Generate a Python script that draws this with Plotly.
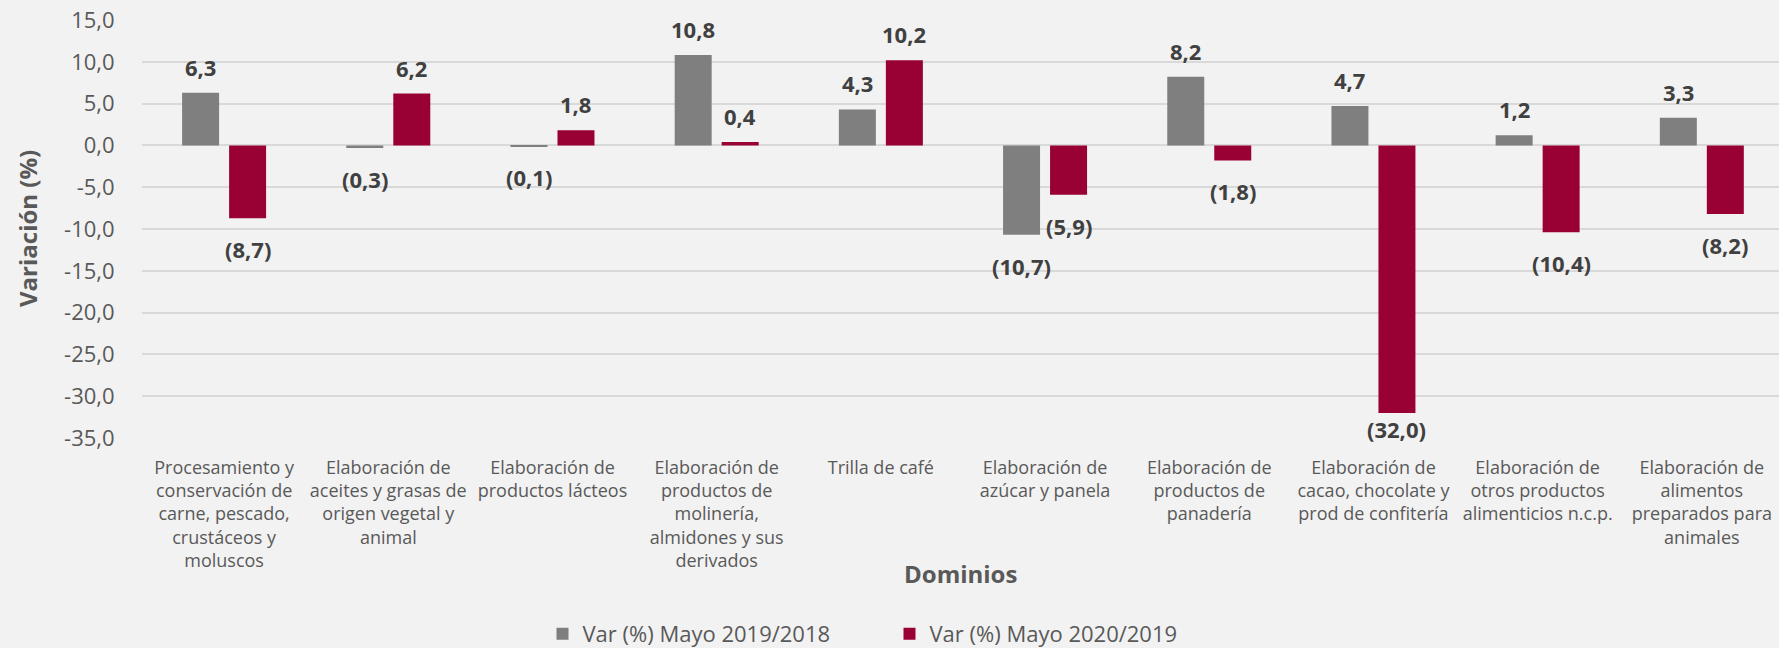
import plotly.graph_objects as go

categories = [
    "Procesamiento y conservación de carne, pescado, crustáceos y moluscos",
    "Elaboración de aceites y grasas de origen vegetal y animal",
    "Elaboración de productos lácteos",
    "Elaboración de productos de molinería, almidones y sus derivados",
    "Trilla de café",
    "Elaboración de azúcar y panela",
    "Elaboración de productos de panadería",
    "Elaboración de cacao, chocolate y prod de confitería",
    "Elaboración de otros productos alimenticios n.c.p.",
    "Elaboración de alimentos preparados para animales",
]
tick_labels = [
    "Procesamiento y<br>conservación de<br>carne, pescado,<br>crustáceos y<br>moluscos",
    "Elaboración de<br>aceites y grasas de<br>origen vegetal y<br>animal",
    "Elaboración de<br>productos lácteos",
    "Elaboración de<br>productos de<br>molinería,<br>almidones y sus<br>derivados",
    "Trilla de café",
    "Elaboración de<br>azúcar y panela",
    "Elaboración de<br>productos de<br>panadería",
    "Elaboración de<br>cacao, chocolate y<br>prod de confitería",
    "Elaboración de<br>otros productos<br>alimenticios n.c.p.",
    "Elaboración de<br>alimentos<br>preparados para<br>animales",
]
var_2019_2018 = [6.3, -0.3, -0.1, 10.8, 4.3, -10.7, 8.2, 4.7, 1.2, 3.3]
var_2020_2019 = [-8.7, 6.2, 1.8, 0.4, 10.2, -5.9, -1.8, -32.0, -10.4, -8.2]
series_names = ["Var (%) Mayo 2019/2018", "Var (%) Mayo 2020/2019"]
y_ticks = [15, 10, 5, 0, -5, -10, -15, -20, -25, -30, -35]

COLORS = ["#7f7f7f", "#990033"]
FONT = "Open Sans"
TXT = "#595959"
LBL = "#404040"

W, H = 1779, 648
ML, MT, MB, MR = 142, 20, 210, 0
Y_MIN, Y_MAX = -35, 15
plot_h = H - MT - MB
ppu = plot_h / (Y_MAX - Y_MIN)


def fmt(v):
    s = f"{abs(v):.1f}".replace(".", ",")
    return f"({s})" if v < 0 else s


fig = go.Figure()
for name, vals, col in zip(series_names, [var_2019_2018, var_2020_2019], COLORS):
    fig.add_trace(go.Bar(
        x=categories, y=vals, name=name,
        marker=dict(color=col, line=dict(width=0)),
        hoverinfo="x+y",
    ))

annotations = []
for k, vals in enumerate([var_2019_2018, var_2020_2019]):
    xs = -23.5 if k == 0 else 23.5
    for c, v in zip(categories, vals):
        if v >= 0:
            yl = v + 26 / ppu
        else:
            yl = max(v - 31 / ppu, Y_MIN + 9 / ppu)
        annotations.append(dict(
            x=c, y=yl, xref="x", yref="y", xshift=xs, text=fmt(v),
            showarrow=False, xanchor="center", yanchor="middle",
            font=dict(family=FONT, size=22, color=LBL, weight="bold"),
        ))

annotations.append(dict(
    x=0.5, y=(438 - 573) / plot_h, xref="paper", yref="paper",
    text="<b>Dominios</b>", showarrow=False, xanchor="center", yanchor="middle",
    font=dict(family=FONT, size=24, color=TXT),
))
annotations.append(dict(
    x=(27 - ML) / (W - ML - MR), y=0.5, xref="paper", yref="paper",
    text="<b>Variación (%)</b>", showarrow=False, xanchor="center", yanchor="middle",
    textangle=-90, font=dict(family=FONT, size=24, color=TXT),
))

fig.update_layout(
    width=W, height=H,
    margin=dict(l=ML, r=MR, t=MT, b=MB, pad=0, autoexpand=False),
    paper_bgcolor="#f2f2f2", plot_bgcolor="#f2f2f2",
    barmode="group", bargap=0.4275, bargroupgap=0.213,
    font=dict(family=FONT, color=TXT),
    showlegend=True,
    legend=dict(
        orientation="h", x=(889.5 - ML) / (W - ML - MR), xanchor="center",
        y=(438 - 634) / plot_h, yanchor="middle",
        font=dict(family=FONT, size=22, color=TXT),
        entrywidth=302, bgcolor="rgba(0,0,0,0)",
    ),
    annotations=annotations,
)
fig.update_xaxes(
    type="category", range=[-0.5, 9.47],
    tickmode="array", tickvals=categories, ticktext=tick_labels,
    tickfont=dict(family=FONT, size=18, color=TXT),
    ticks="outside", ticklen=13, tickcolor="rgba(0,0,0,0)",
    showgrid=False, zeroline=False, showline=False, automargin=False,
)
fig.update_yaxes(
    range=[Y_MIN, Y_MAX],
    tickmode="array", tickvals=y_ticks,
    ticktext=[f"{t:.1f}".replace(".", ",") for t in y_ticks],
    tickfont=dict(family=FONT, size=22, color=TXT),
    ticks="outside", ticklen=22, tickcolor="rgba(0,0,0,0)",
    showgrid=True, gridcolor="#d9d9d9", gridwidth=1.5,
    zeroline=True, zerolinecolor="#d9d9d9", zerolinewidth=1.5,
    showline=False, automargin=False,
)

fig.write_html(
    "out.html",
    config={"displayModeBar": False},
    post_script="document.body.style.margin='0';document.body.style.overflow='hidden';",
)
